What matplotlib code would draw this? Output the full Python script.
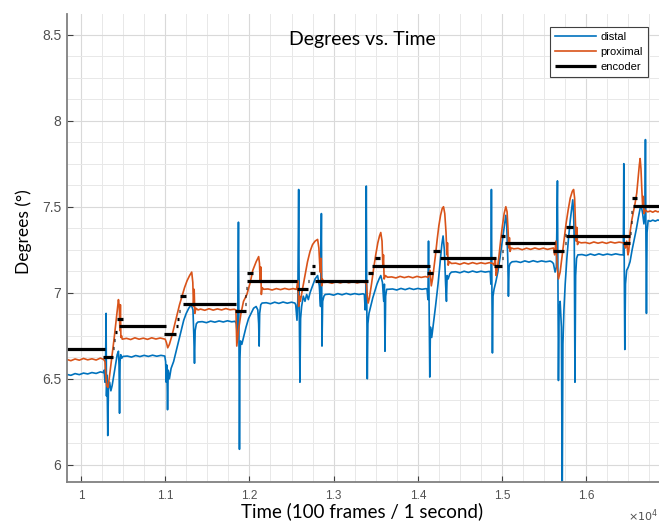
import matplotlib
matplotlib.use("Agg")
import matplotlib.pyplot as plt
from matplotlib.ticker import MultipleLocator, FuncFormatter

# distal sensor (time in frames, degrees)
distal = [
    (9834, 6.525), (9880, 6.520), (9930, 6.530), (9980, 6.524), (10030, 6.533),
    (10080, 6.528), (10130, 6.536), (10180, 6.531), (10230, 6.540), (10265, 6.536),
    (10275, 6.55), (10285, 6.48), (10292, 6.58), (10298, 6.88), (10303, 6.40),
    (10310, 6.52), (10318, 6.17), (10326, 6.44), (10340, 6.48), (10355, 6.43),
    (10370, 6.46), (10390, 6.52), (10410, 6.58), (10430, 6.64), (10445, 6.66),
    (10452, 6.58), (10458, 6.30), (10464, 6.60), (10472, 6.64), (10485, 6.62),
    (10500, 6.63), (10550, 6.632), (10600, 6.626), (10650, 6.635), (10700, 6.629),
    (10750, 6.636), (10800, 6.630), (10850, 6.637), (10900, 6.631), (10950, 6.636),
    (10995, 6.632), (11005, 6.60), (11012, 6.48), (11020, 6.58), (11028, 6.32),
    (11036, 6.55), (11050, 6.50), (11070, 6.56), (11100, 6.60), (11130, 6.66),
    (11160, 6.72), (11190, 6.78), (11220, 6.84), (11250, 6.88), (11280, 6.91),
    (11310, 6.93), (11330, 6.90), (11340, 6.75), (11348, 6.59), (11356, 6.78),
    (11370, 6.82), (11390, 6.83), (11440, 6.832), (11490, 6.826), (11540, 6.835),
    (11590, 6.829), (11640, 6.836), (11690, 6.830), (11740, 6.837), (11790, 6.831),
    (11830, 6.834), (11845, 6.82), (11855, 6.76), (11862, 6.86), (11870, 7.41),
    (11876, 6.70), (11882, 6.09), (11888, 6.62), (11895, 6.72), (11910, 6.70),
    (11930, 6.74), (11960, 6.80), (11990, 6.85), (12020, 6.88), (12050, 6.91),
    (12080, 6.92), (12100, 6.90), (12110, 6.82), (12116, 6.69), (12122, 6.88),
    (12135, 6.93), (12150, 6.94), (12200, 6.942), (12250, 6.936), (12300, 6.945),
    (12350, 6.938), (12400, 6.946), (12450, 6.939), (12500, 6.945), (12540, 6.94),
    (12550, 6.93), (12565, 6.84), (12575, 6.96), (12585, 7.60), (12592, 6.90),
    (12600, 6.48), (12608, 6.85), (12620, 6.92), (12640, 6.98), (12660, 6.95),
    (12680, 6.99), (12700, 6.96), (12720, 7.00), (12750, 7.04), (12780, 7.08),
    (12810, 7.10), (12830, 7.04), (12845, 6.92), (12855, 7.46), (12862, 6.69),
    (12870, 6.95), (12885, 6.98), (12900, 6.99), (12950, 6.992), (13000, 6.986),
    (13050, 6.995), (13100, 6.988), (13150, 6.996), (13200, 6.989), (13250, 6.995),
    (13300, 6.990), (13350, 6.994), (13365, 6.99), (13375, 6.90), (13382, 7.00),
    (13388, 7.62), (13394, 6.95), (13400, 6.50), (13407, 6.82), (13420, 6.88),
    (13440, 6.92), (13465, 6.97), (13490, 7.01), (13515, 7.05), (13540, 7.08),
    (13560, 7.10), (13580, 7.06), (13595, 6.95), (13603, 7.05), (13610, 6.66),
    (13618, 6.98), (13630, 7.02), (13650, 7.02), (13700, 7.022), (13750, 7.016),
    (13800, 7.025), (13850, 7.018), (13900, 7.026), (13950, 7.019), (14000, 7.025),
    (14050, 7.020), (14100, 7.024), (14110, 7.02), (14120, 6.96), (14127, 7.30),
    (14134, 6.90), (14142, 6.51), (14150, 6.80), (14165, 6.74), (14185, 6.82),
    (14210, 6.92), (14240, 7.05), (14265, 7.18), (14285, 7.28), (14300, 7.33),
    (14315, 7.25), (14330, 7.05), (14340, 6.95), (14348, 7.10), (14360, 7.08),
    (14380, 7.11), (14400, 7.12), (14450, 7.122), (14500, 7.116), (14550, 7.125),
    (14600, 7.118), (14650, 7.126), (14700, 7.119), (14750, 7.125), (14800, 7.120),
    (14850, 7.124), (14860, 7.12), (14868, 7.05), (14874, 7.60), (14880, 7.00),
    (14886, 6.65), (14893, 6.98), (14905, 7.02), (14925, 7.06), (14950, 7.12),
    (14975, 7.20), (15000, 7.29), (15025, 7.38), (15045, 7.45), (15055, 7.40),
    (15068, 7.20), (15076, 6.98), (15084, 7.15), (15095, 7.17), (15120, 7.18),
    (15170, 7.182), (15220, 7.176), (15270, 7.185), (15320, 7.178), (15370, 7.186),
    (15420, 7.179), (15470, 7.185), (15520, 7.180), (15570, 7.184), (15590, 7.18),
    (15610, 7.17), (15630, 7.12), (15645, 7.15), (15658, 7.65), (15664, 7.00),
    (15670, 6.49), (15678, 6.90), (15690, 6.95), (15705, 6.80), (15715, 5.80),
    (15723, 6.70), (15735, 6.90), (15750, 7.05), (15770, 7.20), (15790, 7.32),
    (15810, 7.42), (15830, 7.50), (15840, 7.54), (15850, 7.46), (15858, 7.30),
    (15866, 6.48), (15874, 7.10), (15885, 7.20), (15900, 7.22), (15950, 7.222),
    (16000, 7.216), (16050, 7.225), (16100, 7.218), (16150, 7.226), (16200, 7.219),
    (16250, 7.225), (16300, 7.220), (16350, 7.226), (16400, 7.221), (16440, 7.22),
    (16446, 7.75), (16452, 7.10), (16458, 6.67), (16466, 7.05), (16480, 7.13),
    (16500, 7.15), (16520, 7.18), (16545, 7.25), (16570, 7.31), (16595, 7.37),
    (16620, 7.44), (16640, 7.49), (16655, 7.50), (16670, 7.46), (16685, 7.40),
    (16697, 7.45), (16703, 7.89), (16709, 7.30), (16715, 6.88), (16722, 7.35),
    (16735, 7.42), (16760, 7.415), (16790, 7.422), (16820, 7.416), (16850, 7.423),
    (16880, 7.418), (16900, 7.42),
]

# proximal sensor
proximal = [
    (9834, 6.612), (9880, 6.605), (9930, 6.615), (9980, 6.608), (10030, 6.618),
    (10080, 6.610), (10130, 6.616), (10180, 6.609), (10230, 6.620), (10270, 6.612),
    (10285, 6.60), (10295, 6.52), (10305, 6.46), (10320, 6.45), (10335, 6.50),
    (10355, 6.58), (10375, 6.66), (10395, 6.74), (10415, 6.83), (10430, 6.90),
    (10445, 6.96), (10455, 6.92), (10462, 6.78), (10468, 6.93), (10474, 6.74),
    (10482, 6.75), (10490, 6.73), (10540, 6.735), (10590, 6.728), (10640, 6.738),
    (10690, 6.730), (10740, 6.736), (10790, 6.729), (10840, 6.738), (10890, 6.731),
    (10940, 6.737), (11000, 6.73), (11015, 6.71), (11030, 6.68), (11050, 6.70),
    (11080, 6.75), (11110, 6.81), (11140, 6.87), (11170, 6.93), (11200, 6.98),
    (11230, 7.03), (11260, 7.07), (11290, 7.10), (11315, 7.12), (11328, 7.06),
    (11336, 6.92), (11344, 7.02), (11352, 6.88), (11365, 6.91), (11390, 6.90),
    (11420, 6.905), (11470, 6.898), (11520, 6.907), (11570, 6.899), (11620, 6.906),
    (11670, 6.900), (11720, 6.908), (11770, 6.901), (11820, 6.904), (11840, 6.90),
    (11850, 6.69), (11870, 6.78), (11900, 6.88), (11930, 6.95), (11970, 6.99),
    (12010, 7.06), (12040, 7.13), (12080, 7.18), (12110, 7.21), (12120, 7.17),
    (12128, 7.06), (12135, 7.15), (12142, 6.99), (12150, 7.03), (12170, 7.02),
    (12220, 7.022), (12270, 7.016), (12320, 7.024), (12370, 7.018), (12420, 7.025),
    (12470, 7.019), (12520, 7.024), (12550, 7.02), (12560, 7.02), (12575, 7.07),
    (12585, 6.92), (12595, 6.98), (12605, 6.95), (12630, 7.02), (12660, 7.10),
    (12690, 7.18), (12720, 7.24), (12750, 7.28), (12780, 7.30), (12810, 7.31),
    (12825, 7.26), (12840, 7.12), (12850, 7.20), (12858, 7.04), (12866, 7.08),
    (12880, 7.06), (12930, 7.062), (12980, 7.055), (13030, 7.064), (13080, 7.057),
    (13130, 7.065), (13180, 7.058), (13230, 7.064), (13280, 7.057), (13330, 7.063),
    (13375, 7.06), (13390, 7.05), (13400, 6.98), (13410, 6.94), (13425, 6.97),
    (13450, 7.05), (13475, 7.14), (13500, 7.22), (13525, 7.29), (13545, 7.33),
    (13560, 7.35), (13575, 7.30), (13585, 7.15), (13592, 7.22), (13600, 7.08),
    (13615, 7.10), (13640, 7.09), (13690, 7.092), (13740, 7.086), (13790, 7.095),
    (13840, 7.088), (13890, 7.094), (13940, 7.087), (13990, 7.095), (14040, 7.089),
    (14090, 7.094), (14120, 7.09), (14130, 7.10), (14145, 7.13), (14160, 7.04),
    (14175, 7.08), (14190, 7.14), (14210, 7.22), (14230, 7.31), (14250, 7.39),
    (14270, 7.45), (14290, 7.49), (14305, 7.50), (14320, 7.46), (14335, 7.35),
    (14345, 7.22), (14352, 7.29), (14360, 7.16), (14375, 7.18), (14400, 7.17),
    (14450, 7.172), (14500, 7.165), (14550, 7.174), (14600, 7.167), (14650, 7.175),
    (14700, 7.168), (14750, 7.174), (14800, 7.169), (14850, 7.175), (14890, 7.17),
    (14905, 7.16), (14920, 7.20), (14930, 7.10), (14945, 7.14), (14965, 7.22),
    (14985, 7.31), (15005, 7.39), (15025, 7.46), (15045, 7.50), (15060, 7.47),
    (15072, 7.36), (15080, 7.26), (15088, 7.32), (15095, 7.24), (15110, 7.26),
    (15140, 7.255), (15190, 7.258), (15240, 7.250), (15290, 7.259), (15340, 7.252),
    (15390, 7.260), (15440, 7.253), (15490, 7.259), (15540, 7.252), (15590, 7.258),
    (15610, 7.26), (15625, 7.22), (15640, 7.30), (15655, 7.15), (15670, 7.08),
    (15690, 7.12), (15710, 7.20), (15735, 7.30), (15760, 7.40), (15785, 7.48),
    (15810, 7.55), (15835, 7.59), (15850, 7.60), (15862, 7.55), (15872, 7.40),
    (15880, 7.30), (15888, 7.38), (15896, 7.28), (15910, 7.295), (15940, 7.29),
    (15990, 7.292), (16040, 7.286), (16090, 7.295), (16140, 7.288), (16190, 7.294),
    (16240, 7.287), (16290, 7.295), (16340, 7.289), (16390, 7.294), (16440, 7.29),
    (16450, 7.29), (16465, 7.26), (16480, 7.30), (16495, 7.22), (16505, 7.24),
    (16520, 7.35), (16540, 7.42), (16560, 7.47), (16580, 7.52), (16600, 7.58),
    (16615, 7.66), (16630, 7.74), (16640, 7.78), (16650, 7.72), (16660, 7.60),
    (16670, 7.50), (16678, 7.56), (16686, 7.46), (16700, 7.48), (16730, 7.47),
    (16760, 7.475), (16790, 7.468), (16820, 7.476), (16850, 7.47), (16880, 7.474),
    (16900, 7.47),
]

# encoder steps: start frame, end frame, degrees
enc_start = [9834, 10262, 10378, 10392, 10405, 10428, 10450,
             10990, 11132, 11146, 11160, 11180, 11210,
             11830, 11945, 11950, 11955, 11970, 11970,
             12560, 12698, 12720, 12740, 12780,
             13410, 13490, 13456,
             14110, 14180, 14265,
             14910, 14995, 15000, 14990, 15030,
             15610, 15742, 15750, 15760, 15760,
             16437, 16520, 16527, 16534, 16545, 16555]
enc_end = [10285, 10375, 10395, 10409, 10422, 10500, 11010,
           11130, 11149, 11163, 11177, 11250, 11840,
           11960, 11960, 11965, 11970, 12040, 12570,
           12700, 12713, 12780, 12780, 13410,
           13470, 13550, 14145,
           14180, 14260, 14930,
           15000, 15010, 15015, 15035, 15630,
           15740, 15757, 15765, 15840, 16520,
           16520, 16535, 16542, 16549, 16600, 16900]
enc_level = [6.674, 6.628, 6.680, 6.725, 6.770, 6.847, 6.804,
             6.762, 6.805, 6.850, 6.895, 6.980, 6.936,
             6.891, 6.935, 6.980, 7.025, 7.116, 7.070,
             7.023, 7.070, 7.116, 7.157, 7.070,
             7.116, 7.200, 7.157,
             7.116, 7.244, 7.200,
             7.155, 7.200, 7.245, 7.330, 7.290,
             7.245, 7.290, 7.335, 7.380, 7.330,
             7.290, 7.350, 7.410, 7.470, 7.550, 7.506]

distal_time, distal_deg = zip(*distal)
proximal_time, proximal_deg = zip(*proximal)

plt.rcParams["font.family"] = ["Liberation Sans", "DejaVu Sans"]

fig = plt.figure(figsize=(6.59, 5.27), dpi=100)
ax = fig.add_axes([67 / 659, 45 / 527, 592 / 659, 468 / 527])

ax.plot(distal_time, distal_deg, color="#0072BD", lw=1.2, label="distal")
ax.plot(proximal_time, proximal_deg, color="#D95319", lw=1.2, label="proximal")
ax.hlines(enc_level, enc_start, enc_end, colors="black", lw=2.3, label="encoder")

ax.set_xlim(9834, 16864)
ax.set_ylim(5.90, 8.62)

ax.xaxis.set_major_locator(MultipleLocator(1000))
ax.xaxis.set_minor_locator(MultipleLocator(250))
ax.yaxis.set_major_locator(MultipleLocator(0.5))
ax.yaxis.set_minor_locator(MultipleLocator(0.125))
ax.xaxis.set_major_formatter(FuncFormatter(lambda v, p: f"{v / 1e4:g}"))
ax.yaxis.set_major_formatter(FuncFormatter(lambda v, p: f"{v:g}"))

ax.grid(which="major", color="#d9d9d9", lw=0.8)
ax.grid(which="minor", color="#e8e8e8", lw=0.7)
ax.set_axisbelow(True)

for s in ["top", "right"]:
    ax.spines[s].set_visible(False)
for s in ["left", "bottom"]:
    ax.spines[s].set_color("#808080")
    ax.spines[s].set_linewidth(1.3)

ax.tick_params(which="major", direction="in", length=4, color="#404040")
ax.tick_params(which="minor", length=0)
ax.tick_params(axis="x", labelsize=8.5, labelcolor="#505050", pad=6)
ax.tick_params(axis="y", labelsize=10, labelcolor="#505050", pad=4)

fig.text(362 / 659, 1 - 511 / 527, "Time (100 frames / 1 second)",
         ha="center", va="center", fontsize=13.5, family="Lato")
fig.text(24 / 659, 1 - 232 / 527, "Degrees (°)", rotation=90,
         ha="center", va="center", fontsize=12.5, family="Lato")
fig.text(362 / 659, 1 - 39 / 527, "Degrees vs. Time",
         ha="center", va="center", fontsize=14, family="Lato")
fig.text(658 / 659, 1 - 516 / 527, r"$\times10^{4}$",
         ha="right", va="center", fontsize=8, color="#505050")

leg = ax.legend(loc="upper right", bbox_to_anchor=(648 / 659, 1 - 27 / 527),
                bbox_transform=fig.transFigure, borderaxespad=0,
                fontsize=8, fancybox=False, framealpha=1, edgecolor="#404040",
                handlelength=3.7, handletextpad=0.4, labelspacing=0.45,
                borderpad=0.45)
leg.get_frame().set_linewidth(0.8)

fig.savefig("out.png", dpi=100)
